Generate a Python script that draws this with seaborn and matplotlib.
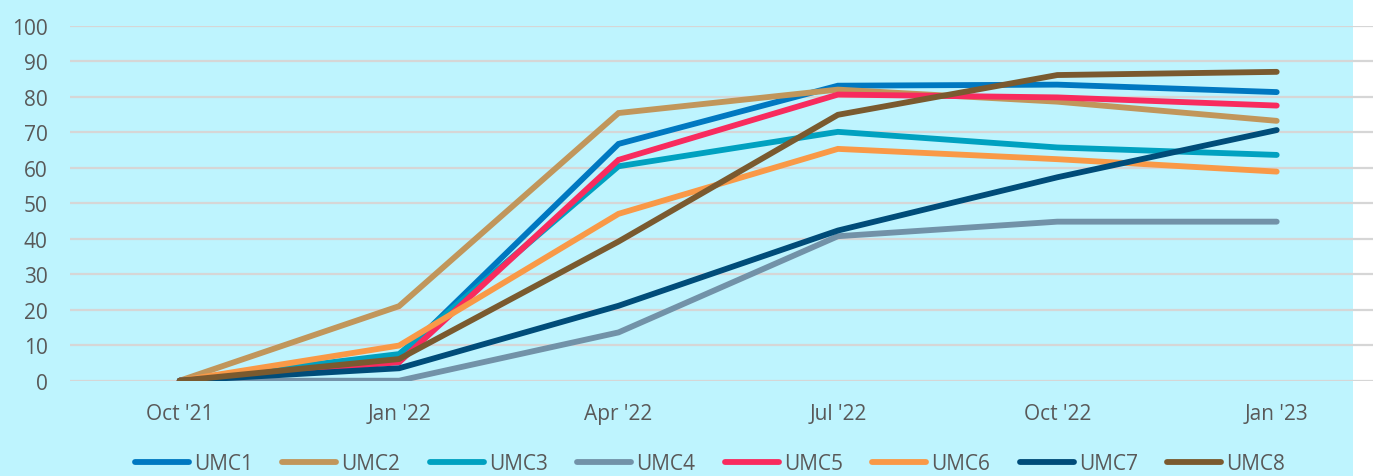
import matplotlib

matplotlib.use("Agg")
import matplotlib.pyplot as plt
import numpy as np
import pandas as pd
import seaborn as sns
from matplotlib.patches import Rectangle

# chart data
dates = ["Oct '21", "Jan '22", "Apr '22", "Jul '22", "Oct '22", "Jan '23"]
series_names = ["UMC1", "UMC2", "UMC3", "UMC4", "UMC5", "UMC6", "UMC7", "UMC8"]
umc1 = [0, 6.5, 66.7, 83.1, 83.4, 81.3]
umc2 = [0, 21.0, 75.4, 82.0, 78.6, 73.2]
umc3 = [0, 7.5, 60.4, 70.1, 65.7, 63.6]
umc4 = [0, 0.0, 13.6, 40.7, 44.8, 44.8]
umc5 = [0, 5.2, 62.2, 80.6, 79.8, 77.5]
umc6 = [0, 9.9, 47.0, 65.3, 62.4, 58.9]
umc7 = [0, 3.5, 21.1, 42.3, 57.3, 70.6]
umc8 = [0, 6.1, 39.2, 74.9, 86.1, 87.0]
y_ticks = [0, 10, 20, 30, 40, 50, 60, 70, 80, 90, 100]

colors = ["#0078C1", "#C1965B", "#00A1C0", "#7292A8",
          "#F82B5E", "#F99947", "#004C79", "#7A5A2F"]

values = [umc1, umc2, umc3, umc4, umc5, umc6, umc7, umc8]
rows = []
for name, vals in zip(series_names, values):
    for i, v in enumerate(vals):
        rows.append({"pos": i, "value": v, "series": name})
df = pd.DataFrame(rows)

sns.set_theme(style="white")
plt.rcParams["font.family"] = ["Open Sans", "DejaVu Sans"]

W, H = 1373, 477
fig = plt.figure(figsize=(W / 100, H / 100), dpi=100)
fig.patch.set_facecolor("white")
# cyan chart-area background that stops short of the right edge
fig.patches.append(Rectangle((0, 0), 1353 / W, 1, transform=fig.transFigure,
                             facecolor="#BEF4FE", edgecolor="none", zorder=-10))

ax = fig.add_axes([70 / W, (H - 381.7) / H, (1386.4 - 70) / W, 355 / H])
ax.set_facecolor("none")

sns.lineplot(data=df, x="pos", y="value", hue="series", hue_order=series_names,
             palette=colors, linewidth=4.2, sort=False, estimator=None, ax=ax)
for line in ax.get_lines():
    line.set_solid_capstyle("round")
    line.set_solid_joinstyle("miter")

ax.set_xlim(-0.5, len(dates) - 0.5)
ax.set_ylim(0, 100)
ax.set_xticks(np.arange(len(dates)))
ax.set_xticklabels(dates)
ax.set_yticks(y_ticks)
ax.yaxis.grid(True, color="#D6D6D6", linewidth=1.6)
ax.set_axisbelow(True)
for s in ax.spines.values():
    s.set_visible(False)
ax.tick_params(axis="both", length=0, labelsize=15, colors="#595959")
ax.tick_params(axis="y", pad=16)
ax.tick_params(axis="x", pad=16)
ax.set_xlabel("")
ax.set_ylabel("")

handles, labels = ax.get_legend_handles_labels()
for h in handles:
    h.set_solid_capstyle("round")
    h.set_linewidth(4.2)
ax.get_legend().remove()
fig.legend(handles, labels, loc="center", bbox_to_anchor=(710 / W, 1 - 465 / H),
           ncol=8, frameon=False, fontsize=15, handlelength=2.6,
           handletextpad=0.25, columnspacing=1.4, labelcolor="#595959",
           borderaxespad=0)

fig.savefig("out.png", dpi=100)
